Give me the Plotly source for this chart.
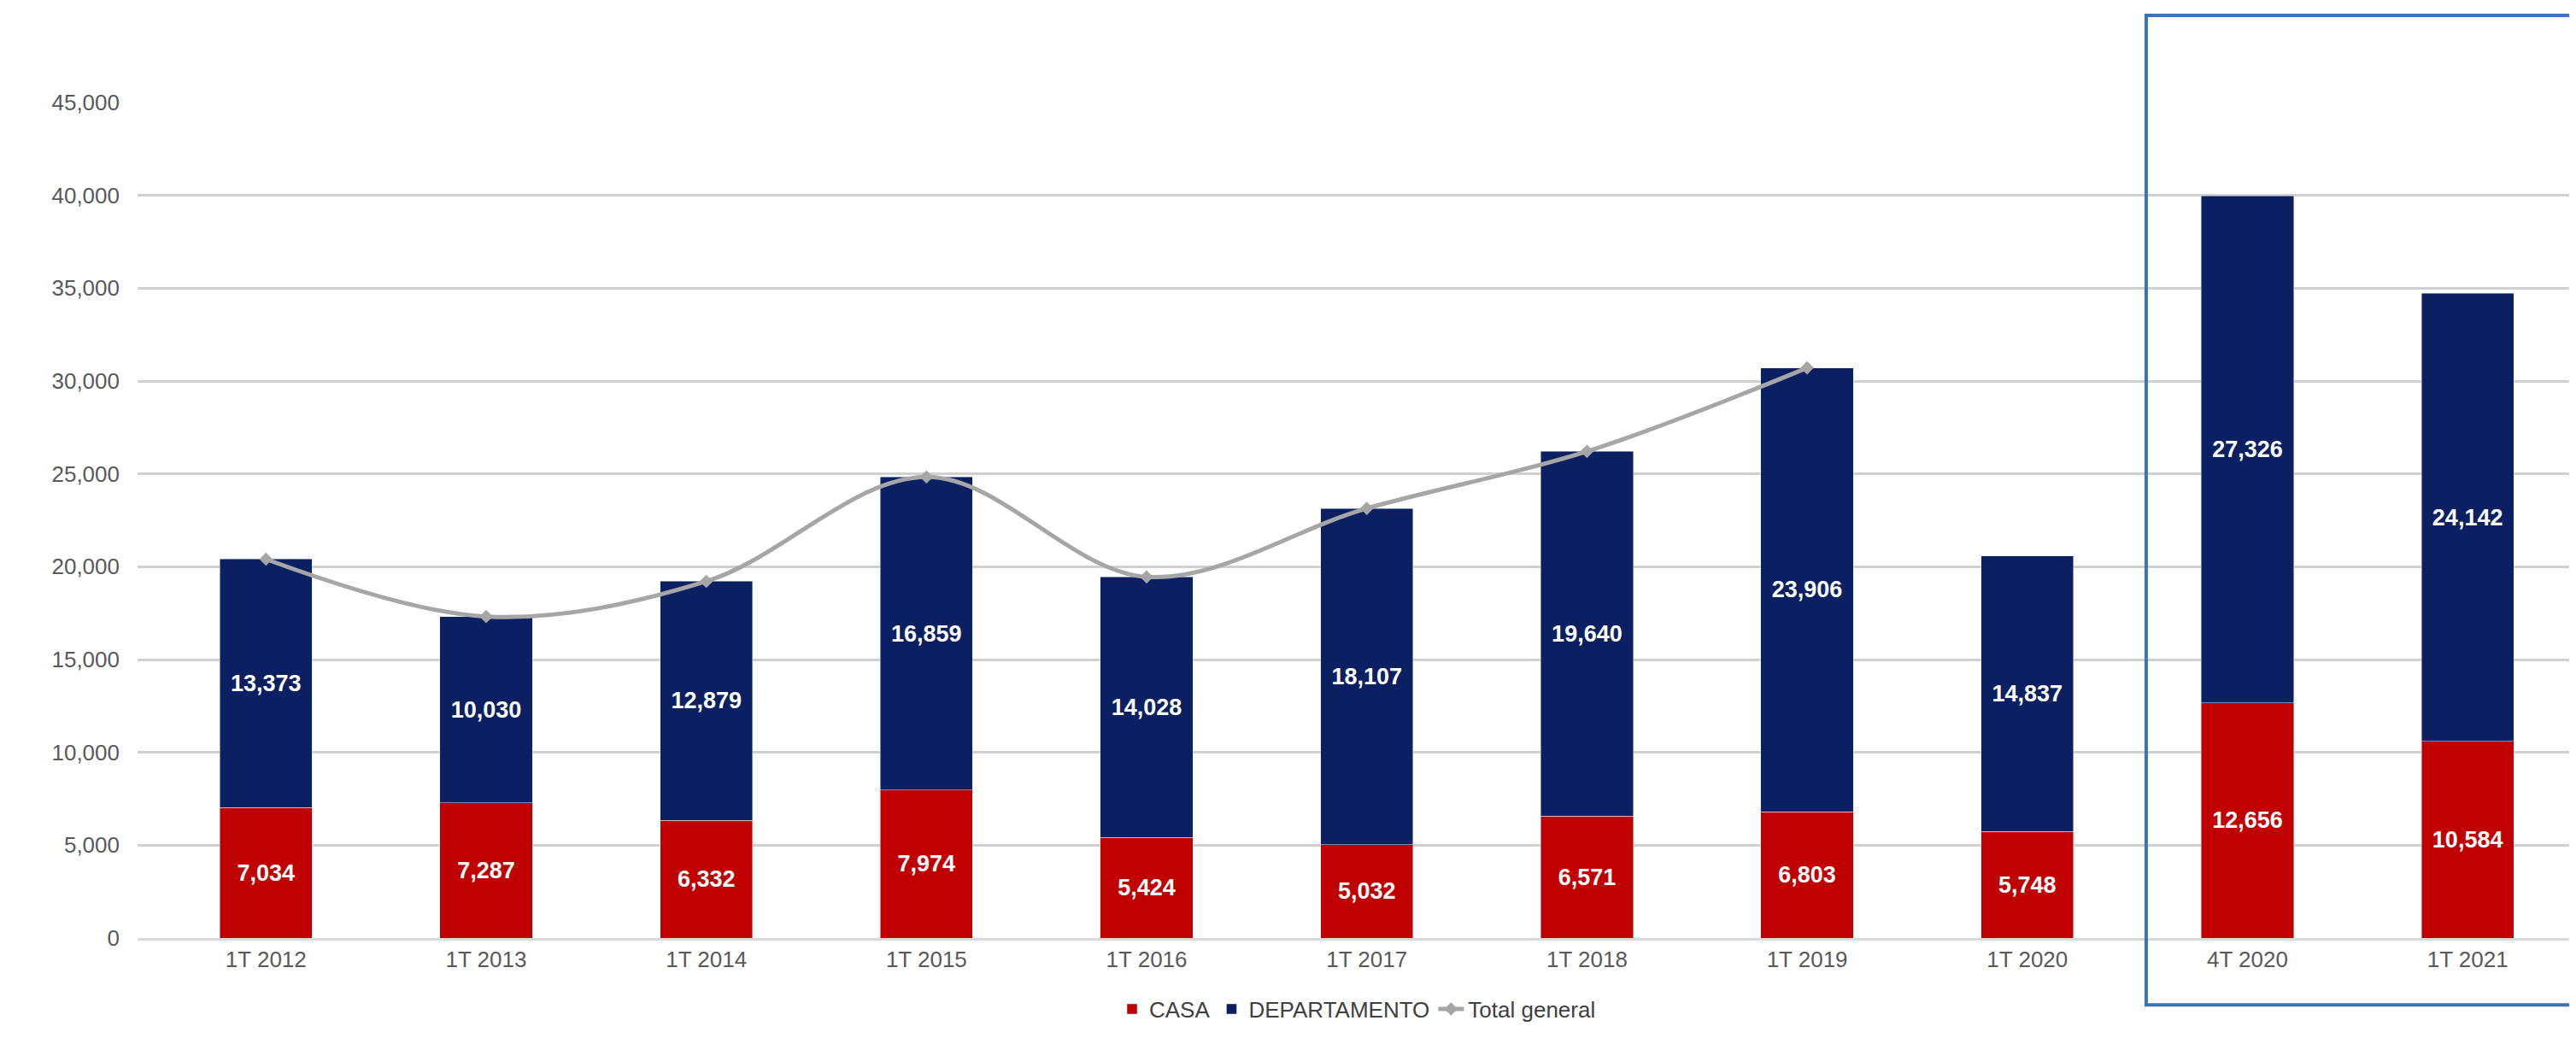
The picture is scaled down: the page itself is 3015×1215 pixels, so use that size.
import plotly.graph_objects as go

cats = ["1T 2012","1T 2013","1T 2014","1T 2015","1T 2016","1T 2017","1T 2018","1T 2019","1T 2020","4T 2020","1T 2021"]
casa = [7034,7287,6332,7974,5424,5032,6571,6803,5748,12656,10584]
depto = [13373,10030,12879,16859,14028,18107,19640,23906,14837,27326,24142]
total_cats = cats[:8]
total = [c+d for c,d in zip(casa[:8], depto[:8])]

fig = go.Figure()
fig.add_bar(x=cats, y=casa, name="CASA", marker_color="#c00000",
            text=[f"<b>{v:,}</b>" for v in casa], textposition="inside", insidetextanchor="middle",
            textfont=dict(color="white", size=27, family="Liberation Sans"))
fig.add_bar(x=cats, y=depto, name="DEPARTAMENTO", marker_color="#0b2062",
            text=[f"<b>{v:,}</b>" for v in depto], textposition="inside", insidetextanchor="middle",
            textfont=dict(color="white", size=27, family="Liberation Sans"))
fig.add_scatter(x=total_cats, y=total, name="Total general", mode="lines+markers",
                line=dict(color="#a6a6a6", width=5, shape="spline"),
                marker=dict(symbol="diamond", size=12, color="#a6a6a6"))
fig.update_traces(selector=dict(type="bar"), textangle=0, cliponaxis=False)
fig.update_layout(
    barmode="stack", bargap=0.58, width=3015, height=1215,
    plot_bgcolor="white", paper_bgcolor="white",
    margin=dict(l=153, r=6, t=112, b=125),
    font=dict(family="Liberation Sans", size=24, color="#595959"),
    uniformtext=dict(mode="show", minsize=20),
    legend=dict(orientation="h", x=0.5, xanchor="center", y=-0.085, yanchor="middle",
                font=dict(size=26, color="#404040"), traceorder="normal"),
    xaxis=dict(showline=True, linecolor="#d9d9d9", linewidth=3, tickfont=dict(size=26)),
    yaxis=dict(range=[0,45000], dtick=5000, tickformat=",", gridcolor="#d0d0d0", gridwidth=3,
               zeroline=False, tickfont=dict(size=26), ticklabelstandoff=20),
    shapes=[dict(type="rect", xref="x", yref="paper", x0=8.54, x1=10.48, y0=-0.08, y1=1.0+102/978,
                 line=dict(color="#3b74b6", width=4))],
)
fig.write_html("out.html")
